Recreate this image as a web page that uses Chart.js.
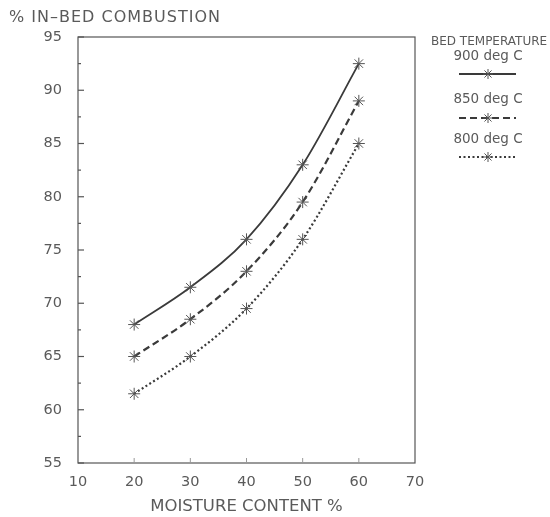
<!DOCTYPE html>
<html>
<head>
<meta charset="utf-8">
<script src="https://cdn.jsdelivr.net/npm/chart.js@4.4.1/dist/chart.umd.min.js"></script>
<style>
  html, body { margin: 0; padding: 0; background: #fff; }
  #wrap { width: 550px; height: 517px; }
</style>
</head>
<body>
<div id="wrap"><canvas id="chart" width="550" height="517"></canvas></div>
<script>
// moisture content (%)
const moisture = [20, 30, 40, 50, 60];
// % in-bed combustion per bed temperature
const temp900 = [68.0, 71.5, 76.0, 83.0, 92.5];
const temp850 = [65.0, 68.5, 73.0, 79.5, 89.0];
const temp800 = [61.5, 65.0, 69.5, 76.0, 85.0];
const seriesLabels = ['900 deg C', '850 deg C', '800 deg C'];
const xTicks = [10, 20, 30, 40, 50, 60, 70];
const yTicks = [55, 60, 65, 70, 75, 80, 85, 90, 95];

const INK = '#3a3a3a';
const TEXT = '#5a5a5a';
const FONT = '"DejaVu Sans", sans-serif';
const dashes = [[], [7, 4], [2, 2.5]];

const toPts = ys => moisture.map((x, i) => ({ x, y: ys[i] }));

/** 枠線と内向きの目盛り */
const framePlugin = {
  id: 'frame',
  afterDraw(chart) {
    const { ctx, chartArea: a, scales: { x, y } } = chart;
    ctx.save();
    ctx.strokeStyle = '#555';
    ctx.lineWidth = 1.2;
    ctx.strokeRect(a.left, a.top, a.right - a.left, a.bottom - a.top);
    // y 主目盛り・副目盛り
    for (let v = 55; v <= 95; v += 2.5) {
      const py = y.getPixelForValue(v);
      const len = (v % 5 === 0) ? 6 : 3;
      ctx.beginPath();
      ctx.moveTo(a.left, py);
      ctx.lineTo(a.left + len, py);
      ctx.stroke();
    }
    // x 目盛り
    ctx.strokeStyle = '#999';
    ctx.lineWidth = 1;
    xTicks.slice(1, -1).forEach(v => {
      const px = x.getPixelForValue(v);
      ctx.beginPath();
      ctx.moveTo(px, a.bottom);
      ctx.lineTo(px, a.bottom - 5);
      ctx.stroke();
    });
    // タイトル
    ctx.fillStyle = TEXT;
    ctx.font = '16px ' + FONT;
    ctx.letterSpacing = '1px';
    ctx.textBaseline = 'middle';
    ctx.textAlign = 'left';
    ctx.fillText('% IN\u2013BED COMBUSTION', 9, 18);
    ctx.restore();
  }
};

/** 凡例 */
const legendPlugin = {
  id: 'customLegend',
  afterDraw(chart) {
    const { ctx } = chart;
    ctx.save();
    ctx.fillStyle = TEXT;
    ctx.textBaseline = 'middle';
    ctx.font = '12px ' + FONT;
    ctx.textAlign = 'left';
    ctx.fillText('BED TEMPERATURE', 431, 42);
    const cx = 488;
    const labelY = [56, 99, 139];
    const lineY = [74, 118, 157];
    seriesLabels.forEach((lab, i) => {
      ctx.fillStyle = TEXT;
      ctx.font = '13.5px ' + FONT;
      ctx.textAlign = 'center';
      ctx.fillText(lab, cx, labelY[i]);
      ctx.strokeStyle = INK;
      ctx.lineWidth = i === 0 ? 1.8 : 2;
      ctx.setLineDash(dashes[i]);
      ctx.beginPath();
      ctx.moveTo(cx - 29, lineY[i]);
      ctx.lineTo(cx + 28, lineY[i]);
      ctx.stroke();
      ctx.setLineDash([]);
      ctx.lineWidth = 1;
      ctx.strokeStyle = '#555';
      for (let k = 0; k < 4; k++) {
        const ang = k * Math.PI / 4;
        ctx.beginPath();
        ctx.moveTo(cx - Math.cos(ang) * 5, lineY[i] - Math.sin(ang) * 5);
        ctx.lineTo(cx + Math.cos(ang) * 5, lineY[i] + Math.sin(ang) * 5);
        ctx.stroke();
      }
    });
    ctx.restore();
  }
};

const mkDataset = (label, ys, i) => ({
  label,
  data: toPts(ys),
  borderColor: INK,
  borderWidth: i === 0 ? 1.8 : 2.2,
  borderDash: dashes[i],
  cubicInterpolationMode: 'monotone',
  pointStyle: 'star',
  pointRadius: 6,
  pointBorderWidth: 1,
  pointBorderColor: '#555',
  pointBackgroundColor: '#555',
  fill: false
});

new Chart(document.getElementById('chart'), {
  type: 'line',
  data: {
    datasets: [
      mkDataset(seriesLabels[0], temp900, 0),
      mkDataset(seriesLabels[1], temp850, 1),
      mkDataset(seriesLabels[2], temp800, 2)
    ]
  },
  options: {
    responsive: false,
    animation: false,
    layout: { padding: { top: 37, right: 135, left: 0, bottom: 0 } },
    plugins: { legend: { display: false }, tooltip: { enabled: false } },
    scales: {
      x: {
        type: 'linear',
        min: 10, max: 70,
        afterBuildTicks: s => { s.ticks = xTicks.map(v => ({ value: v })); },
        afterFit: s => { s.height = 54; },
        grid: { display: false },
        border: { display: false },
        ticks: { color: TEXT, font: { family: FONT, size: 14.5 }, padding: 3, maxRotation: 0 },
        title: {
          display: true,
          text: 'MOISTURE CONTENT %',
          color: TEXT,
          font: { family: FONT, size: 16.5 },
          padding: { top: 5, bottom: 0 }
        }
      },
      y: {
        min: 55, max: 95,
        afterBuildTicks: s => { s.ticks = yTicks.map(v => ({ value: v })); },
        afterFit: s => { s.width = 78; },
        grid: { display: false },
        border: { display: false },
        ticks: { color: TEXT, font: { family: FONT, size: 14.5 }, padding: 8 }
      }
    }
  },
  plugins: [framePlugin, legendPlugin]
});
</script>
</body>
</html>
